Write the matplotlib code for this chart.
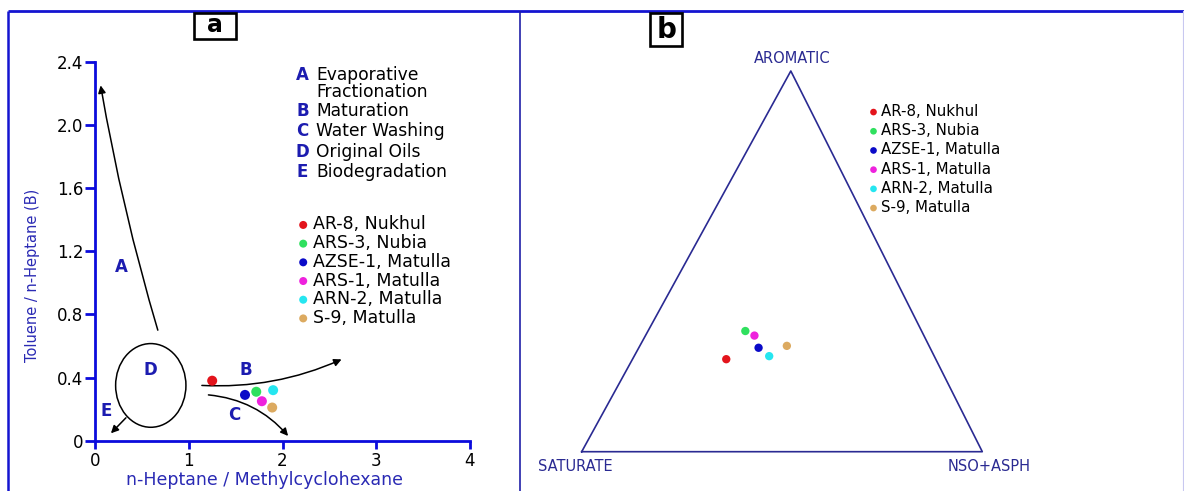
import matplotlib
matplotlib.use('Agg')
import matplotlib.pyplot as plt
from matplotlib.patches import Ellipse, Rectangle

plt.rcParams['font.family'] = ['DejaVu Sans']

# ---------------- data ----------------
wells = ['AR-8, Nukhul', 'ARS-3, Nubia', 'AZSE-1, Matulla',
         'ARS-1, Matulla', 'ARN-2, Matulla', 'S-9, Matulla']
well_colors = ['#e3141c', '#2fe05e', '#0a0ac8', '#ee22dd', '#25e6f0', '#dcaa60']

# panel a: n-Heptane/Methylcyclohexane vs Toluene/n-Heptane
heptane_mch = [1.25, 1.72, 1.60, 1.78, 1.90, 1.89]
toluene_heptane = [0.38, 0.31, 0.29, 0.25, 0.32, 0.21]

# panel b: ternary composition (%)
saturate = [52.3, 44.0, 42.8, 42.3, 41.2, 35.5]
aromatic = [24.3, 31.7, 27.3, 30.5, 25.1, 27.8]
nso_asph = [23.4, 24.3, 29.9, 27.2, 33.7, 36.7]

x_ticks = [0, 1, 2, 3, 4]
y_ticks = [0, 0.4, 0.8, 1.2, 1.6, 2.0, 2.4]
y_ticklabels = ['0', '0.4', '0.8', '1.2', '1.6', '2.0', '2.4']

# trend arrows (start, end, curvature) and process letters
trend_arrows = [((0.67, 0.70), (0.06, 2.25), -0.03),   # A
                ((1.14, 0.35), (2.63, 0.515), 0.12),   # B
                ((1.21, 0.29), (2.06, 0.03), -0.2),    # C
                ((0.33, 0.145), (0.17, 0.047), 0.0)]   # E
process_letters = ['A', 'B', 'C', 'D', 'E']
letter_x = [0.28, 1.61, 1.49, 0.59, 0.12]
letter_y = [1.10, 0.45, 0.16, 0.45, 0.19]
process_names = ['Evaporative\nFractionation', 'Maturation', 'Water Washing',
                 'Original Oils', 'Biodegradation']
original_oils_ellipse = (0.595, 0.35, 0.75, 0.53)  # cx, cy, width, height

# ---------------- figure ----------------
W, H = 1184, 491
fig = plt.figure(figsize=(W / 100, H / 100), dpi=100)


def fx(px):
    return px / W


def fy(py):
    return 1 - py / H


frame_blue = '#1414d0'
spine_blue = '#0b0bdc'
label_blue = '#2a2ab4'
letter_blue = '#1c1cb0'
navy = '#2a2a92'

ax0 = fig.add_axes([0, 0, 1, 1])
ax0.set_xlim(0, W)
ax0.set_ylim(H, 0)
ax0.axis('off')
# outer frame
ax0.plot([8, 8], [10.5, H], color=frame_blue, lw=1.8, solid_capstyle='butt')
ax0.plot([8, W], [10.5, 10.5], color=frame_blue, lw=2.0, solid_capstyle='butt')
ax0.plot([519.5, 519.5], [10.5, H], color='#2020a8', lw=1.2, solid_capstyle='butt')
ax0.plot([1182.5, 1182.5], [10.5, H], color='#c8c8f0', lw=0.8)

# panel label boxes
ax0.add_patch(Rectangle((194, 12.5), 42, 26.5, fill=True, facecolor='white',
                        edgecolor='black', lw=1.9, zorder=5))
ax0.text(215, 24.5, 'a', fontsize=17, fontweight='bold', ha='center', va='center', zorder=6)
ax0.add_patch(Rectangle((650, 13.3), 32.3, 32.4, fill=True, facecolor='white',
                        edgecolor='black', lw=1.9, zorder=5))
ax0.text(666.2, 29.5, 'b', fontsize=20, fontweight='bold', ha='center', va='center', zorder=6)

# process legend (text)
proc_y = [75, 110.7, 131, 151.7, 172.3]
for let, name, py in zip(process_letters, process_names, proc_y):
    ax0.text(302.5, py, let, fontsize=12, fontweight='bold', color=letter_blue,
             ha='center', va='center')
    lines = name.split('\n')
    for k, line in enumerate(lines):
        ax0.text(316.5, py + 16.5 * k, line, fontsize=12.3, color='black',
                 ha='left', va='center')

# ---------------- panel a ----------------
ax = fig.add_axes([fx(95), fy(440.7), 375 / W, 379 / H])
ax.patch.set_alpha(0)
for i in range(len(wells)):
    ax.scatter(heptane_mch[i], toluene_heptane[i], s=52, color=well_colors[i],
               edgecolors='none', label=wells[i], zorder=4)

ax.add_patch(Ellipse(original_oils_ellipse[:2], original_oils_ellipse[2],
                     original_oils_ellipse[3], fill=False, edgecolor='black', lw=1.1))
for (start, end, rad) in trend_arrows:
    ax.annotate('', xy=end, xytext=start,
                arrowprops=dict(arrowstyle='-|>', color='black', lw=1.1,
                                connectionstyle=f'arc3,rad={rad}',
                                mutation_scale=11, shrinkA=0, shrinkB=0))
for let, lx, ly in zip(process_letters, letter_x, letter_y):
    ax.text(lx, ly, let, fontsize=12, fontweight='bold', color=letter_blue,
            ha='center', va='center')

ax.set_xlim(0, 4)
ax.set_ylim(0, 2.4)
ax.set_xticks(x_ticks)
ax.set_xticklabels([str(v) for v in x_ticks])
ax.set_yticks(y_ticks)
ax.set_yticklabels(y_ticklabels)
for side in ['top', 'right']:
    ax.spines[side].set_visible(False)
for side in ['left', 'bottom']:
    ax.spines[side].set_color(spine_blue)
    ax.spines[side].set_linewidth(2)
ax.tick_params(axis='both', direction='out', color=spine_blue, width=2,
               labelsize=12, labelcolor='black')
ax.tick_params(axis='y', length=7, pad=1.5)
ax.tick_params(axis='x', length=6, pad=2)

ax.set_xlabel('n-Heptane / Methylcyclohexane', fontsize=12.5, color=label_blue)
ax.xaxis.set_label_coords((265 - 95) / 375, (440.7 - 480) / 379)
ax.xaxis.label.set_va('center')
ax.set_ylabel('Toluene / n-Heptane (B)', fontsize=10.5, color=label_blue)
ax.yaxis.set_label_coords((33 - 95) / 375, (440.7 - 275) / 379)
ax.yaxis.label.set_va('center')

ax.legend(loc='upper left', bbox_to_anchor=(fx(298), fy(215.5)),
          bbox_transform=fig.transFigure, frameon=False, fontsize=12.5,
          handlelength=0.6, handletextpad=0.26, labelspacing=0.04,
          borderpad=0, borderaxespad=0, markerscale=0.8)

# ---------------- panel b (ternary) ----------------
apex_x = 0.522
axb = fig.add_axes([fx(581.7), fy(451.7), 400.6 / W, 380.7 / H])
axb.set_xlim(0, 1)
axb.set_ylim(0, 1)
axb.axis('off')
axb.plot([0, 1, apex_x, 0], [0, 0, 1, 0], color=navy, lw=1.2, clip_on=False)

for i in range(len(wells)):
    tot = saturate[i] + aromatic[i] + nso_asph[i]
    a = aromatic[i] / tot
    n = nso_asph[i] / tot
    axb.scatter(n + a * apex_x, a, s=36, color=well_colors[i], edgecolors='none',
                label=wells[i], zorder=4, clip_on=False)

axb.text(0.525, 1.034, 'AROMATIC', fontsize=10.5, color=navy, ha='center', va='center')
axb.text(-0.017, -0.038, 'SATURATE', fontsize=10.5, color=navy, ha='center', va='center')
axb.text(1.018, -0.038, 'NSO+ASPH', fontsize=10.5, color=navy, ha='center', va='center')

axb.legend(loc='upper left', bbox_to_anchor=(fx(869), fy(104)),
           bbox_transform=fig.transFigure, frameon=False, fontsize=10.8,
           handlelength=0.6, handletextpad=0.22, labelspacing=0.28,
           borderpad=0, borderaxespad=0, markerscale=0.8)

fig.savefig('out.png', dpi=100)
